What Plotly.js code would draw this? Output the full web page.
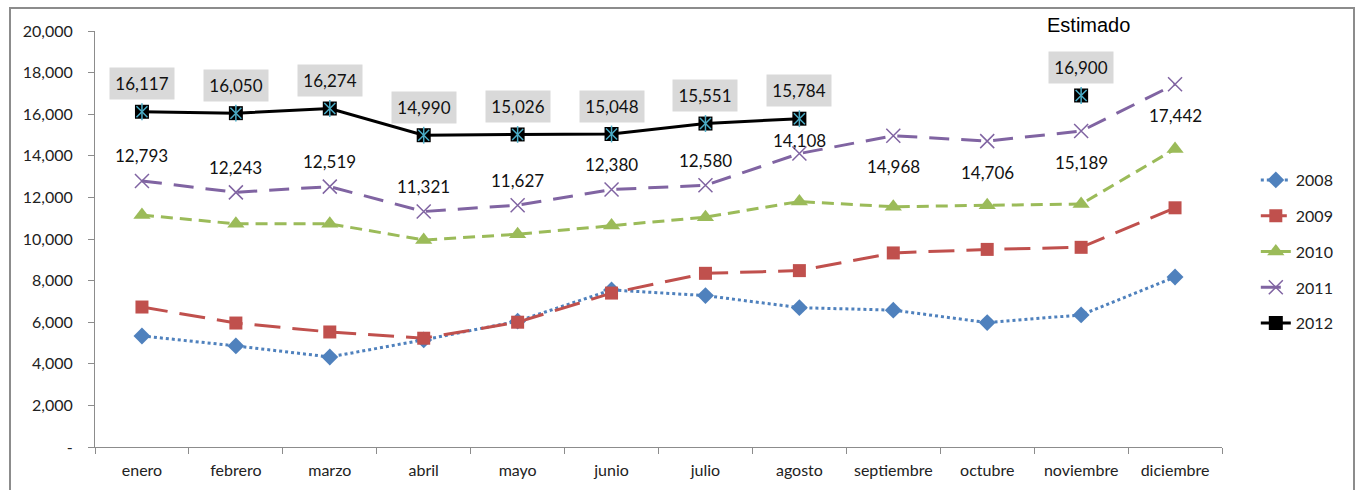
<!DOCTYPE html>
<html>
<head>
<meta charset="utf-8">
<script src="https://cdn.plot.ly/plotly-3.0.1.min.js"></script>
<style>
  body { margin: 0; background: #fff; overflow: hidden; }
  #frame { position: absolute; left: 9px; top: 7px; width: 1342px; height: 530px; border: 2px solid #8c8c8c; }
  #chart { position: absolute; left: 0; top: 0; width: 1356px; height: 490px; }
</style>
</head>
<body>
<div id="frame"></div>
<div id="chart"></div>
<script>
// months on the x axis
const months = ['enero', 'febrero', 'marzo', 'abril', 'mayo', 'junio', 'julio',
                'agosto', 'septiembre', 'octubre', 'noviembre', 'diciembre'];

// values per year
const y2008 = [5340, 4860, 4330, 5150, 6050, 7550, 7280, 6700, 6580, 5980, 6350, 8170];
const y2009 = [6730, 5960, 5530, 5230, 6000, 7400, 8350, 8480, 9330, 9500, 9600, 11500];
const y2010 = [11150, 10730, 10730, 9950, 10230, 10650, 11050, 11800, 11550, 11620, 11680, 14330];
const y2011 = [12793, 12243, 12519, 11321, 11627, 12380, 12580, 14108, 14968, 14706, 15189, 17442];
const y2012 = [16117, 16050, 16274, 14990, 15026, 15048, 15551, 15784, null, null, 16900, null];

const yTicks = [0, 2000, 4000, 6000, 8000, 10000, 12000, 14000, 16000, 18000, 20000];
const yTickText = ['-', '2,000', '4,000', '6,000', '8,000', '10,000', '12,000',
                   '14,000', '16,000', '18,000', '20,000'];

const labelFont = 'Lato, Open Sans, sans-serif';
const fmt = v => v.toLocaleString('en-US');

const traces = [
    {
        x: months, y: y2008, name: '2008', legendgroup: 'a',
        mode: 'lines+markers',
        line: {color: '#4f81bd', width: 3, dash: 'dot'},
        marker: {symbol: 'diamond', size: 13, color: '#4f81bd'}
    },
    {
        x: months, y: y2009, name: '2009', legendgroup: 'b',
        mode: 'lines+markers',
        line: {color: '#c0504d', width: 3, dash: '26px,12px'},
        marker: {symbol: 'square', size: 13, color: '#c0504d'}
    },
    {
        x: months, y: y2010, name: '2010', legendgroup: 'c',
        mode: 'lines+markers',
        line: {color: '#9bbb59', width: 3, dash: '12px,7px'},
        marker: {symbol: 'triangle-up', size: 15, color: '#9bbb59'}
    },
    {
        x: months, y: y2011, name: '2011', legendgroup: 'd',
        mode: 'lines+markers',
        line: {color: '#8064a2', width: 3, dash: '20px,12px'},
        marker: {symbol: 'x-thin-open', size: 14, color: '#8064a2', line: {width: 1.5, color: '#8064a2'}}
    },
    {
        x: months, y: y2012, name: '2012', legendgroup: 'e',
        mode: 'lines+markers', connectgaps: false,
        line: {color: '#000000', width: 3},
        marker: {symbol: 'square', size: 14, color: '#000000'}
    },
    // cyan star drawn over the black square of 2012
    {
        x: months, y: y2012, legendgroup: 'e', showlegend: false, hoverinfo: 'skip',
        mode: 'markers',
        marker: {symbol: 'x-thin-open', size: 11, color: '#4bacc6', line: {width: 1.5, color: '#4bacc6'}}
    },
    {
        x: months, y: y2012, legendgroup: 'e', showlegend: false, hoverinfo: 'skip',
        mode: 'markers',
        marker: {symbol: 'line-ns-open', size: 12, color: '#4bacc6', line: {width: 1.5, color: '#4bacc6'}}
    }
];

const annotations = [];

// 2011 labels: above the point up to agosto, below afterwards
y2011.forEach((v, i) => {
    let shift = 25;
    if (i === 7) shift = 13;
    if (i > 7) shift = -31;
    annotations.push({
        x: months[i], y: v, xref: 'x', yref: 'y',
        text: fmt(v), showarrow: false, yshift: shift,
        font: {family: labelFont, size: 17, color: '#111'}
    });
});

// 2012 labels in grey boxes
y2012.forEach((v, i) => {
    if (v === null) return;
    annotations.push({
        x: months[i], y: v, xref: 'x', yref: 'y',
        text: fmt(v), showarrow: false, yshift: 28,
        bgcolor: '#d9d9d9', width: 54, height: 21, borderpad: 5,
        font: {family: labelFont, size: 17, color: '#111'}
    });
});

annotations.push({
    x: 'noviembre', y: 1.045, xref: 'x', yref: 'paper', xshift: 7,
    text: 'Estimado', showarrow: false,
    font: {family: 'Liberation Sans, Arial, sans-serif', size: 20, color: '#000'}
});

const layout = {
    width: 1356, height: 490,
    margin: {l: 95, r: 134, t: 31, b: 43},
    paper_bgcolor: 'rgba(0,0,0,0)',
    plot_bgcolor: '#ffffff',
    showlegend: true,
    hovermode: 'closest',
    font: {family: labelFont, size: 15, color: '#222'},
    xaxis: {
        type: 'category',
        range: [-0.5, 11.5], autorange: false,
        tickangle: 0,
        showgrid: false, zeroline: false,
        showline: true, linecolor: '#8c8c8c', linewidth: 1,
        ticks: 'outside', tickson: 'boundaries', ticklen: 6, tickcolor: '#8c8c8c',
        ticklabelstandoff: 9,
        tickfont: {family: labelFont, size: 16, color: '#222'}
    },
    yaxis: {
        range: [0, 20000],
        tickvals: yTicks, ticktext: yTickText,
        showgrid: false, zeroline: false,
        showline: true, linecolor: '#8c8c8c', linewidth: 1,
        ticks: 'outside', ticklen: 6, tickcolor: '#8c8c8c',
        ticklabelstandoff: 12,
        tickfont: {family: labelFont, size: 16, color: '#222'}
    },
    legend: {
        x: 1.03, xanchor: 'left', y: 0.47, yanchor: 'middle',
        tracegroupgap: 12,
        font: {family: labelFont, size: 16, color: '#222'},
        bgcolor: 'rgba(0,0,0,0)'
    },
    annotations: annotations
};

Plotly.newPlot('chart', traces, layout, {displayModeBar: false});
</script>
</body>
</html>
